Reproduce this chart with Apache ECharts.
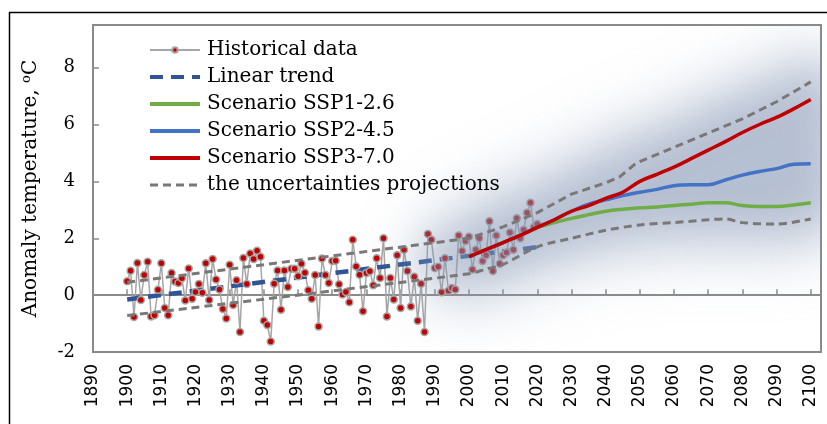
<!DOCTYPE html>
<html>
<head>
<meta charset="utf-8">
<script src="https://cdn.jsdelivr.net/npm/echarts@6/dist/echarts.min.js"></script>
<style>
  html, body { margin: 0; padding: 0; background: #fff; }
  #chart { width: 827px; height: 424px; }
</style>
</head>
<body>
<div id="chart"></div>
<script>
// Observed anomaly, one value per year starting in 1900
const histStart = 1900;
const histValues = [
  0.49, 0.86, -0.77, 1.13, -0.17, 0.71, 1.17, -0.75, -0.71, 0.19,
  1.12, -0.45, -0.71, 0.78, 0.48, 0.43, 0.59, -0.19, 0.94, -0.13,
  0.11, 0.39, 0.08, 1.12, -0.17, 1.27, 0.55, 0.20, -0.49, -0.82,
  1.07, -0.35, 0.52, -1.30, 1.31, 0.39, 1.46, 1.27, 1.56, 1.35,
  -0.90, -1.05, -1.63, 0.40, 0.87, -0.51, 0.87, 0.29, 0.93, 0.93,
  0.66, 1.10, 0.79, 0.17, -0.13, 0.71, -1.10, 1.29, 0.71, 0.43,
  1.20, 1.21, 0.38, 0.02, 0.11, -0.25, 1.95, 1.01, 0.72, -0.57,
  0.78, 0.84, 0.35, 1.30, 0.60, 2.00, -0.75, 0.60, -0.15, 1.40,
  -0.45, 1.60, 0.85, -0.40, 0.65, -0.90, 0.40, -1.30, 2.15, 1.95,
  0.95, 1.00, 0.10, 1.30, 0.15, 0.25, 0.20, 2.10, 1.55, 1.90,
  2.05, 0.90, 1.60, 2.00, 1.20, 1.40, 2.60, 0.85, 2.10, 1.10,
  1.40, 1.50, 2.20, 1.60, 2.70, 2.00, 2.30, 2.90, 3.25, 2.40,
  2.50
];

// Linear trend end points
const trendYears = [1900, 2020];
const trendValues = [-0.15, 1.69];

// Scenario projections (5-year steps)
const scenYears = [2000, 2005, 2010, 2015, 2020, 2025, 2030, 2035, 2040, 2045, 2050,
                   2055, 2060, 2065, 2070, 2075, 2080, 2085, 2090, 2095, 2100];
const ssp126 = [1.35, 1.60, 1.85, 2.10, 2.38, 2.55, 2.70, 2.83, 2.95, 3.02, 3.07,
                3.10, 3.15, 3.20, 3.25, 3.25, 3.15, 3.12, 3.12, 3.17, 3.25];
const ssp245 = [1.35, 1.60, 1.85, 2.10, 2.38, 2.65, 2.95, 3.20, 3.35, 3.50, 3.62,
                3.72, 3.85, 3.88, 3.88, 4.05, 4.22, 4.35, 4.45, 4.60, 4.62];
const ssp370 = [1.35, 1.60, 1.85, 2.10, 2.38, 2.65, 2.95, 3.15, 3.40, 3.62, 4.00,
                4.25, 4.50, 4.80, 5.10, 5.40, 5.72, 6.00, 6.25, 6.55, 6.88];

// Uncertainty envelope
const upperYears = [1900, 2000, 2010, 2020, 2030, 2040, 2044, 2049, 2060, 2070, 2080, 2090, 2100];
const upperValues = [0.45, 2.00, 2.40, 2.90, 3.55, 3.95, 4.15, 4.65, 5.20, 5.70, 6.20, 6.80, 7.50];
const lowerYears = [1900, 2000, 2005, 2010, 2020, 2030, 2040, 2050, 2060, 2070, 2075, 2080, 2090, 2100];
const lowerValues = [-0.72, 0.75, 0.92, 1.08, 1.70, 2.00, 2.28, 2.47, 2.55, 2.65, 2.68, 2.55, 2.50, 2.68];

// Spread of the projection haze
const hazeYears = [1986, 1995, 2000, 2010, 2020, 2030, 2040, 2050, 2060, 2070, 2080, 2090, 2100, 2106];
const hazeHigh = [1.6, 2.3, 2.7, 3.3, 3.8, 4.4, 5.0, 5.5, 6.0, 6.6, 7.1, 7.6, 8.1, 8.2];
const hazeLow  = [0.9, 0.4, 0.3, 0.6, 1.1, 1.5, 1.8, 2.0, 2.1, 2.1, 2.1, 2.1, 2.2, 2.2];

const xTicks = { min: 1890, max: 2103, step: 10 };
const yTicks = { min: -2, max: 9.5, step: 2 };

const pairs = (xs, ys) => xs.map((x, i) => [x, ys[i]]);
const histData = histValues.map((v, i) => [histStart + i, v]);

const serif = 'DejaVu Serif';
const chart = echarts.init(document.getElementById('chart'), null, { renderer: 'canvas' });

function renderHaze(params, api) {
  if (params.dataIndex !== 0) return null;
  const OFF = 3000; // shapes sit off-canvas; only their blurred shadows land in the plot
  const layers = [
    { pad: 0.9, blur: 60, color: 'rgba(150,166,192,0.30)' },
    { pad: 0.2, blur: 40, color: 'rgba(135,152,182,0.30)' },
    { pad: -0.6, blur: 30, color: 'rgba(125,142,172,0.20)' }
  ];
  const children = layers.map(L => {
    const pts = [];
    hazeYears.forEach((yr, i) => {
      const p = api.coord([yr, hazeHigh[i] + L.pad]);
      pts.push([p[0] - OFF, p[1]]);
    });
    for (let i = hazeYears.length - 1; i >= 0; i--) {
      const p = api.coord([hazeYears[i], hazeLow[i] - L.pad]);
      pts.push([p[0] - OFF, p[1]]);
    }
    return {
      type: 'polygon',
      shape: { points: pts, smooth: 0.4 },
      style: { fill: '#000', shadowBlur: L.blur, shadowColor: L.color, shadowOffsetX: OFF }
    };
  });
  return { type: 'group', children };
}

const noMark = { opacity: 0 };

const option = {
  animation: false,
  backgroundColor: '#fff',
  grid: {
    left: 93, right: 6, top: 25, bottom: 72,
    show: true, borderColor: '#8a8a8a', borderWidth: 2, backgroundColor: 'transparent'
  },
  graphic: [
    {
      type: 'rect', left: 7, top: 10, silent: true, z: -10,
      shape: { width: 900, height: 500 },
      style: { fill: 'none', stroke: '#000', lineWidth: 1.5 }
    }
  ],
  legend: {
    orient: 'vertical', left: 143, top: 35,
    itemWidth: 50, itemHeight: 7, itemGap: 7,
    textStyle: { fontFamily: serif, fontSize: 20, color: '#000', padding: [0, 0, 0, 2] },
    data: [
      { name: 'Historical data', lineStyle: { width: 2 } },
      { name: 'Linear trend', lineStyle: { width: 4 }, itemStyle: noMark },
      { name: 'Scenario SSP1-2.6', lineStyle: { width: 4 }, itemStyle: noMark },
      { name: 'Scenario SSP2-4.5', lineStyle: { width: 4 }, itemStyle: noMark },
      { name: 'Scenario SSP3-7.0', lineStyle: { width: 4 }, itemStyle: noMark },
      { name: 'the uncertainties projections', lineStyle: { width: 3 }, itemStyle: noMark }
    ]
  },
  xAxis: {
    type: 'value', min: xTicks.min, max: xTicks.max, interval: xTicks.step,
    axisLine: { lineStyle: { color: '#8a8a8a', width: 2 } },
    axisTick: { inside: true, length: 6, lineStyle: { color: '#8a8a8a', width: 1.5 } },
    splitLine: { show: false },
    axisLabel: {
      rotate: 90, margin: 12, fontFamily: 'DejaVu Sans', fontSize: 17, color: '#000',
      formatter: v => (v % 10 === 0 ? String(v) : '')
    }
  },
  yAxis: {
    type: 'value', min: yTicks.min, max: yTicks.max, interval: yTicks.step,
    name: 'Anomaly temperature, {s|o}C',
    nameLocation: 'middle', nameGap: 52,
    nameTextStyle: {
      fontFamily: serif, fontSize: 20, color: '#000',
      rich: { s: { fontFamily: serif, fontSize: 13, verticalAlign: 'top', padding: [0, 0, 8, 0] } }
    },
    axisLine: { show: true, lineStyle: { color: '#8a8a8a', width: 2 } },
    axisTick: { show: true, inside: true, length: 6, lineStyle: { color: '#8a8a8a', width: 1.5 } },
    splitLine: { show: false },
    axisLabel: {
      margin: 18, fontFamily: serif, fontSize: 18, color: '#000',
      formatter: v => (v % 2 === 0 ? String(v) : '')
    }
  },
  series: [
    {
      name: 'Historical data', type: 'line', z: 2,
      data: histData,
      symbol: 'circle', symbolSize: 7,
      lineStyle: { color: '#a6a6a6', width: 1.5 },
      itemStyle: { color: '#c00000', borderColor: '#a6a6a6', borderWidth: 1.5 }
    },
    {
      name: 'Linear trend', type: 'line', z: 2,
      data: pairs(trendYears, trendValues),
      symbol: 'none',
      lineStyle: { color: '#2f5597', width: 4.5, type: [13, 8] },
      itemStyle: { color: '#2f5597' }
    },
    {
      name: 'haze', type: 'custom', z: 3, silent: true, clip: true,
      renderItem: renderHaze,
      data: [[hazeYears[0], hazeLow[0]]]
    },
    {
      name: 'the uncertainties projections', type: 'line', z: 4,
      data: pairs(upperYears, upperValues), symbol: 'none',
      lineStyle: { color: '#7b7776', width: 3, type: [8, 5] },
      itemStyle: { color: '#7b7776' }
    },
    {
      name: 'the uncertainties projections', type: 'line', z: 4,
      data: pairs(lowerYears, lowerValues), symbol: 'none', smooth: 0.3,
      lineStyle: { color: '#7b7776', width: 3, type: [8, 5] },
      itemStyle: { color: '#7b7776' }
    },
    {
      name: 'Scenario SSP1-2.6', type: 'line', z: 5,
      data: pairs(scenYears, ssp126), symbol: 'none', smooth: 0.4,
      lineStyle: { color: '#70ad47', width: 3.5 },
      itemStyle: { color: '#70ad47' }
    },
    {
      name: 'Scenario SSP2-4.5', type: 'line', z: 5,
      data: pairs(scenYears, ssp245), symbol: 'none', smooth: 0.4,
      lineStyle: { color: '#4472c4', width: 3.5 },
      itemStyle: { color: '#4472c4' }
    },
    {
      name: 'Scenario SSP3-7.0', type: 'line', z: 5,
      data: pairs(scenYears, ssp370), symbol: 'none', smooth: 0.4,
      lineStyle: { color: '#c00000', width: 3.5 },
      itemStyle: { color: '#c00000' }
    }
  ]
};

chart.setOption(option);
</script>
</body>
</html>
